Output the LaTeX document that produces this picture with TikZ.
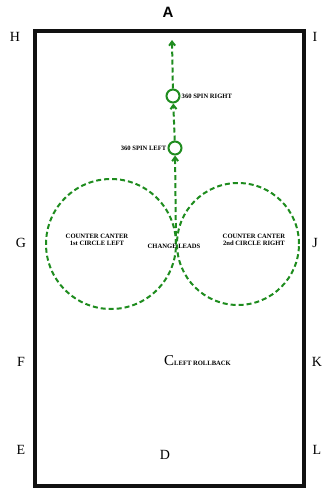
\documentclass[tikz,border=0pt]{standalone}
\usepackage{fontspec}
\setmainfont{Liberation Serif}
\newfontfamily\letterfont{Liberation Sans}
\usetikzlibrary{arrows.meta,positioning}
\definecolor{route}{HTML}{1E8C1E}
\definecolor{wall}{HTML}{111111}

\tikzset{
    marker/.style={font=\fontsize{14}{14}\selectfont, inner sep=0pt},
    tinylabel/.style={font=\fontsize{6.6}{7.4}\selectfont\bfseries, align=center, inner sep=1pt},
    routeline/.style={draw=route, line width=2pt, dash pattern=on 5pt off 3pt},
    spinring/.style={circle, draw=route, line width=2pt, minimum size=13pt, inner sep=0pt},
    bigring/.style={circle, routeline, inner sep=0pt}
}

\begin{document}
\begin{tikzpicture}[x=1pt, y=-1pt]
    \useasboundingbox (0,0) rectangle (322,488);

    % arena
    \draw[wall, line width=4pt] (35,31) rectangle (304,486);

    % letters
    \node[marker, font=\letterfont\fontsize{15}{15}\selectfont\bfseries] (lA) at (168,12) {A};
    \node[marker] (lH) at (15,37) {H};
    \node[marker] (lI) at (315,37) {I};
    \node[marker] (lG) at (21,243) {G};
    \node[marker] (lJ) at (315,243) {J};
    \node[marker] (lF) at (21,362) {F};
    \node[marker] (lK) at (317,362) {K};
    \node[marker] (lE) at (21,450) {E};
    \node[marker] (lL) at (317,450) {L};
    \node[marker] (lD) at (165,455) {D};

    % circles
    \node[bigring, minimum size=130pt] (circleL) at (111,244) {};
    \node[bigring, minimum size=122pt] (circleR) at (238,244) {};
    \coordinate (lead) at (176,244);

    % spins
    \node[spinring] (spinL) at (175,148) {};
    \node[spinring] (spinR) at (173,96) {};
    \coordinate (exit) at (172,40);

    \draw[routeline, -{Straight Barb[length=4pt,width=6pt]}] (lead) -- (spinL);
    \draw[routeline, -{Straight Barb[length=4pt,width=6pt]}] (spinL) -- (spinR);
    \draw[routeline, -{Straight Barb[length=4pt,width=6pt]}] (spinR) -- (exit);

    % labels
    \node[tinylabel, anchor=west] (txtR) at (spinR.east) {360 SPIN RIGHT};
    \node[tinylabel, anchor=east] (txtL) at (spinL.west) {360 SPIN LEFT};
    \node[tinylabel] (txtC1) at (97,240) {COUNTER CANTER\\1st CIRCLE LEFT};
    \node[tinylabel] (txtC2) at (254,240) {COUNTER CANTER\\2nd CIRCLE RIGHT};
    \node[tinylabel] (txtLead) at (174,246) {CHANGE LEADS};
    \node[inner sep=0pt, anchor=west] (txtRoll) at (164,361)
        {{\fontsize{15}{15}\selectfont C}{\fontsize{6.6}{7}\selectfont\bfseries LEFT ROLLBACK}};
\end{tikzpicture}
\end{document}
